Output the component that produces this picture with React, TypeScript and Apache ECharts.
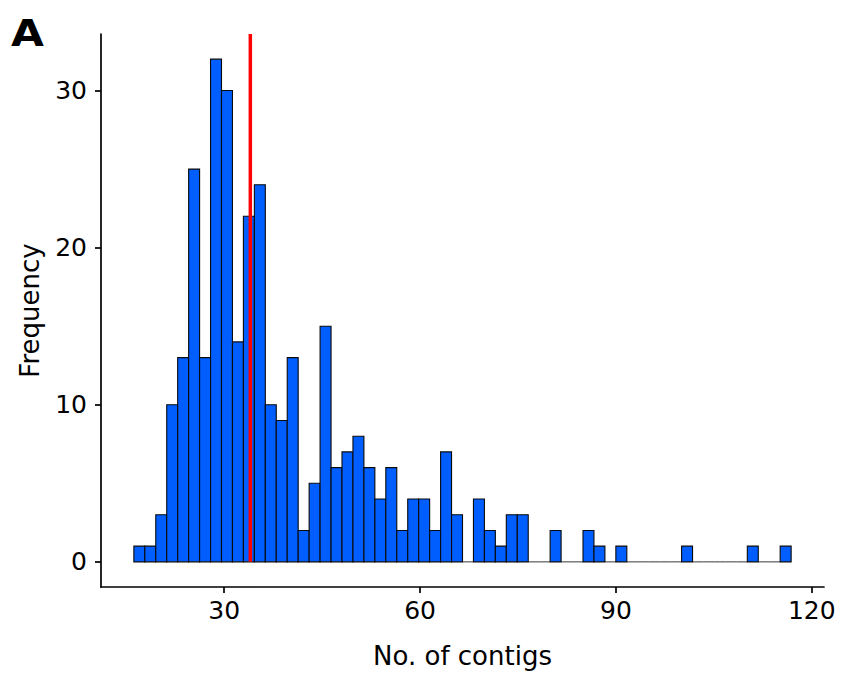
import React, { useEffect, useRef } from "react";
import * as echarts from "echarts";

// Histogram of number of contigs (60 bins, min 17, max 116)
const minValue = 17;
const maxValue = 116;
const binCount = 60;
const counts = [
  1, 1, 3, 10, 13, 25, 13, 32, 30, 14,
  22, 24, 10, 9, 13, 2, 5, 15, 6, 7,
  8, 6, 4, 6, 2, 4, 4, 2, 7, 3,
  0, 4, 2, 1, 3, 3, 0, 0, 2, 0,
  0, 2, 1, 0, 1, 0, 0, 0, 0, 0,
  1, 0, 0, 0, 0, 0, 1, 0, 0, 1,
];
const medianLine = 34;
const xTicks = [30, 60, 90, 120];
const yTicks = [0, 10, 20, 30];

export default function App() {
  const ref = useRef<HTMLDivElement>(null);
  useEffect(() => {
    if (!ref.current) return;
    const chart = echarts.init(ref.current, undefined, { renderer: "svg" });
    const binWidth = (maxValue - minValue) / (binCount - 1);
    const start = minValue - binWidth / 2;
    const end = maxValue + binWidth / 2;
    const xr = end - start;
    const xMin = start - 0.05 * xr;
    const xMax = end + 0.05 * xr;
    const yMaxData = Math.max(...counts);
    const yMin = -0.05 * yMaxData;
    const yMax = yMaxData * 1.05;
    const data = counts.map((c, i) => [start + i * binWidth, start + (i + 1) * binWidth, c]);
    const font = "'DejaVu Sans', Verdana, sans-serif";

    chart.setOption({
      animation: false,
      grid: { left: 101, right: 19, top: 34, bottom: 88 },
      xAxis: {
        type: "value",
        min: xMin,
        max: xMax,
        name: "No. of contigs",
        nameLocation: "middle",
        nameGap: 56,
        nameTextStyle: { fontFamily: font, fontSize: 26, color: "#000" },
        splitLine: { show: false },
        axisLine: { onZero: false, lineStyle: { color: "#000", width: 1.7 } },
        axisTick: { customValues: xTicks, length: 6, lineStyle: { color: "#000", width: 1.7 } },
        axisLabel: { customValues: xTicks, margin: 11, fontFamily: font, fontSize: 25, color: "#000" },
      },
      yAxis: {
        type: "value",
        min: yMin,
        max: yMax,
        name: "Frequency",
        nameLocation: "middle",
        nameGap: 58,
        nameTextStyle: { fontFamily: font, fontSize: 26, color: "#000" },
        splitLine: { show: false },
        axisLine: { onZero: false, lineStyle: { color: "#000", width: 1.7 } },
        axisTick: { customValues: yTicks, length: 6, lineStyle: { color: "#000", width: 1.7 } },
        axisLabel: { customValues: yTicks, margin: 14, fontFamily: font, fontSize: 25, color: "#000" },
      },
      series: [
        {
          type: "custom",
          data,
          encode: { x: [0, 1], y: 2 },
          renderItem: (params: any, api: any) => {
            const x0 = api.value(0);
            const x1 = api.value(1);
            const h = api.value(2);
            const p0 = api.coord([x0, 0]);
            const p1 = api.coord([x1, h]);
            if (h === 0) {
              return {
                type: "line",
                shape: { x1: p0[0], y1: p0[1], x2: p1[0], y2: p0[1] },
                style: { stroke: "#222", lineWidth: 0.9 },
              };
            }
            return {
              type: "rect",
              shape: { x: p0[0], y: p1[1], width: p1[0] - p0[0], height: p0[1] - p1[1] },
              style: { fill: "#005EFF", stroke: "#0a0a0a", lineWidth: 1.1 },
            };
          },
          z: 2,
        },
        {
          type: "line",
          data: [
            [medianLine, 0],
            [medianLine, yMax],
          ],
          symbol: "none",
          lineStyle: { color: "#FF0000", width: 3.5 },
          z: 3,
        },
      ],
      graphic: [
        {
          type: "text",
          x: 11,
          y: 14,
          scaleX: 1.12,
          style: { text: "A", fontFamily: font, fontWeight: "bold", fontSize: 38, fill: "#000" },
        },
      ],
    });
    return () => chart.dispose();
  }, []);
  return (
    <div
      ref={ref}
      style={{ position: "absolute", left: 0, top: 0, width: 843, height: 675, background: "#fff" }}
    />
  );
}
